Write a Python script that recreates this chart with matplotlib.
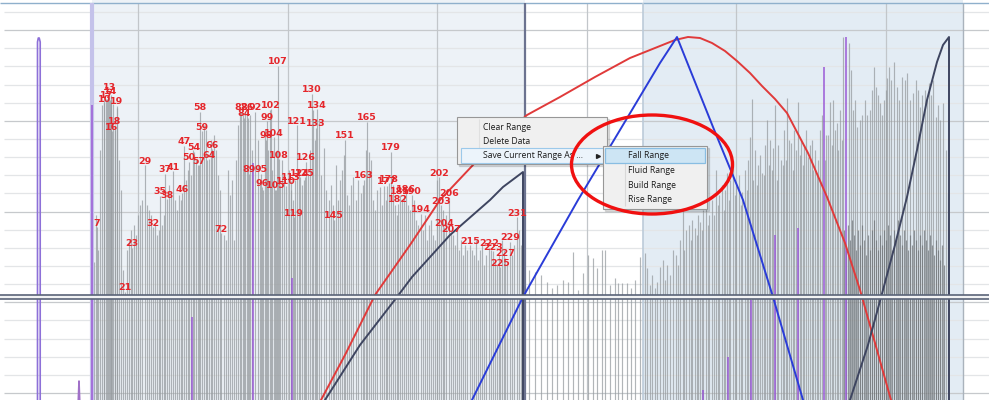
import matplotlib.pyplot as plt
from matplotlib.patches import Ellipse, Rectangle
import numpy as np

# labelled peaks: sample number, time, amplitude
peak_ids = [7, 10, 13, 14, 16, 17, 18, 19, 21, 23, 29, 32, 35, 37, 38, 41, 46, 47,
            50, 54, 57, 58, 59, 64, 66, 72, 82, 84, 86, 89, 92, 95, 96, 98, 99, 102,
            104, 105, 107, 108, 110, 113, 119, 121, 124, 125, 126, 130, 133, 134,
            145, 151, 163, 165, 177, 178, 179, 182, 185, 186, 190, 194, 202, 203,
            204, 206, 207, 215, 222, 223, 225, 227, 229, 231]
peak_t = [97, 104, 109, 111, 112, 107, 115, 117, 125, 132, 145, 153, 160, 165, 167,
          173, 182, 184, 189, 194, 199, 200, 202, 209, 212, 221, 241, 244, 247, 249,
          255, 261, 262, 266, 267, 271, 274, 276, 278, 279, 286, 291, 294, 297, 300,
          305, 306, 312, 316, 317, 334, 345, 364, 367, 387, 389, 391, 398, 400, 406,
          412, 421, 439, 441, 444, 449, 451, 470, 489, 493, 500, 505, 510, 517]
peak_amp = [173, 297, 309, 305, 269, 301, 275, 294, 108, 152, 235, 173, 204, 226, 201,
            229, 207, 254, 238, 248, 235, 288, 269, 241, 251, 167, 288, 282, 288, 226,
            288, 226, 213, 260, 279, 291, 263, 210, 334, 241, 214, 219, 183, 275, 223,
            223, 238, 306, 272, 291, 180, 260, 220, 278, 214, 217, 248, 196, 205, 207,
            205, 186, 223, 195, 173, 202, 167, 155, 152, 149, 133, 142, 158, 183]

# unlabelled samples in the first range
bar_t = [94, 96, 98, 100, 102, 104, 106, 108, 110, 111, 113, 115, 117, 119, 121, 123,
         127, 129, 131, 134, 136, 138, 140, 142, 147, 149, 151, 155, 157, 159, 162,
         164, 169, 171, 175, 177, 179, 181, 186, 188, 191, 193, 196, 198, 204, 206,
         207, 211, 214, 216, 218, 220, 224, 226, 228, 230, 232, 234, 236, 238, 240,
         243, 245, 248, 250, 252, 258, 260, 263, 265, 268, 270, 272, 275, 277, 280,
         282, 284, 289, 291, 293, 295, 299, 302, 304, 308, 310, 313, 315, 319, 321,
         324, 326, 329, 331, 333, 336, 338, 340, 342, 344, 347, 349, 351, 353, 356,
         358, 361, 363, 366, 369, 371, 373, 375, 377, 380, 382, 384, 386, 393, 395,
         397, 402, 404, 408, 410, 414, 416, 418, 423, 425, 427, 429, 431, 433, 435,
         437, 443, 446, 453, 455, 457, 459, 461, 463, 465, 467, 472, 474, 476, 478,
         480, 482, 484, 486, 491, 495, 497, 499, 502, 504, 507, 512, 514, 519, 521]
bar_amp = [138, 185, 150, 250, 295, 300, 301, 303, 300, 302, 296, 270, 292, 240, 210,
           130, 150, 160, 170, 175, 165, 185, 195, 200, 195, 190, 185, 175, 165, 170,
           175, 185, 215, 205, 200, 190, 205, 200, 220, 230, 225, 250, 240, 235, 275,
           270, 240, 260, 265, 250, 225, 210, 165, 160, 230, 205, 220, 160, 240, 275,
           288, 285, 288, 282, 285, 250, 260, 215, 210, 270, 250, 290, 230, 210, 250,
           215, 240, 225, 230, 210, 200, 220, 230, 215, 220, 225, 250, 290, 260, 280,
           225, 252, 210, 200, 215, 195, 235, 200, 220, 230, 245, 205, 195, 215, 223,
           200, 220, 207, 215, 250, 248, 240, 200, 190, 210, 213, 195, 214, 200, 215,
           195, 185, 200, 205, 195, 190, 200, 180, 175, 170, 185, 160, 175, 180, 165,
           160, 220, 190, 185, 165, 155, 170, 150, 160, 145, 155, 150, 150, 145, 160,
           140, 150, 155, 135, 145, 150, 140, 135, 145, 160, 150, 135, 145, 155, 170,
           155]

# samples between the two ranges
gap_t = [529, 535, 541, 547, 552, 557, 563, 568, 573, 578, 583, 588, 593, 597, 602,
         605, 610, 615, 618, 622, 627, 631, 635, 640]
gap_amp = [130, 128, 125, 118, 112, 115, 120, 118, 148, 110, 127, 145, 142, 132, 150,
           150, 115, 122, 117, 117, 117, 112, 120, 143]

# samples in the second range
right_t = [645, 647, 652, 655, 660, 663, 667, 670, 673, 676, 680, 683, 686, 689, 692,
           695, 698, 700, 703, 706, 709, 712, 716, 719, 722, 725, 727, 730, 733, 736,
           739, 742, 745, 748, 750, 752, 755, 758, 760, 762, 765, 767, 770, 773, 775,
           778, 781, 784, 787, 789, 791, 794, 796, 798, 801, 804, 806, 808, 810, 812,
           815, 818, 820, 822, 826, 828, 830, 833, 835, 837, 840, 843, 849, 851, 853,
           855, 857, 860, 862, 865, 867, 870, 872, 874, 876, 878, 880, 882, 884, 886,
           887, 889, 891, 894, 897, 899, 902, 905, 907, 910, 913, 916, 918, 920, 922,
           925, 927, 929, 931, 933, 936, 938, 940, 943, 946, 948]
right_amp = [147, 132, 125, 112, 133, 140, 135, 125, 150, 145, 160, 190, 170, 175, 180,
             172, 185, 178, 190, 195, 185, 200, 230, 205, 215, 210, 227, 220, 240, 215,
             225, 208, 230, 240, 263, 301, 250, 235, 245, 227, 255, 280, 260, 252, 295,
             255, 240, 270, 302, 260, 257, 270, 250, 298, 260, 255, 270, 243, 255, 260,
             250, 240, 270, 285, 265, 265, 298, 300, 270, 277, 290, 363, 357, 330, 290,
             300, 273, 280, 285, 300, 285, 290, 310, 333, 313, 305, 297, 285, 300, 310,
             322, 333, 320, 338, 313, 300, 323, 320, 327, 300, 307, 320, 310, 293, 305,
             310, 300, 317, 305, 320, 283, 295, 280, 297, 250, 207]
# extra samples in the second range (interleaved readings)
right2_t = [650, 657, 665, 678, 684, 691, 697, 702, 708, 714, 718, 724, 729, 735, 741,
            747, 753, 757, 764, 769, 772, 777, 783, 786, 793, 800, 803, 813, 817, 825,
            832, 838, 842]
right2_amp = [115, 118, 120, 135, 150, 160, 165, 170, 175, 185, 195, 190, 200, 205,
              195, 210, 220, 215, 225, 235, 230, 220, 235, 240, 230, 245, 235, 230,
              225, 240, 255, 250, 260]
# dense late samples
late_t = [844, 846, 848, 850, 852, 854, 856, 858, 860, 862, 864, 866, 868, 870, 872,
          874, 876, 878, 880, 882, 884, 886, 888, 890, 892, 894, 896, 898, 900, 902,
          904, 906, 908, 910, 912, 914, 916, 918, 920, 922, 924, 926, 928, 930, 932,
          934, 936, 938, 940, 942, 944]
late_amp = [170, 150, 175, 160, 180, 165, 150, 170, 155, 175, 160, 145, 165, 150, 170,
            180, 160, 150, 165, 155, 170, 160, 175, 165, 150, 170, 160, 180, 165, 155,
            170, 160, 150, 165, 155, 170, 160, 150, 165, 155, 170, 160, 150, 165, 155,
            145, 160, 150, 140, 155, 135]

# event markers (purple)
marker_t = [92, 192, 253, 292, 703, 728, 751, 775, 798, 824, 846]
marker_amp = [295, 83, 237, 122, 10, 43, 100, 165, 172, 333, 363]

# curves
red_t = [321, 345, 375, 410, 440, 473, 500, 527, 560, 595, 630, 660, 675, 688, 700,
         712, 725, 737, 750, 762, 775, 787, 808, 827, 845, 860, 875, 891]
red_amp = [0, 45, 105, 155, 200, 235, 261, 285, 303, 323, 342, 354, 360, 363, 362,
           357, 349, 339, 327, 314, 301, 287, 247, 203, 157, 110, 57, 0]
blue_t = [472, 523, 578, 620, 660, 677, 695, 713, 743, 773, 803]
blue_amp = [0, 103, 200, 270, 337, 363, 318, 273, 200, 103, 0]
navy1_t = [325, 360, 397, 412, 450, 490, 500, 503, 523, 523]
navy1_amp = [0, 55, 103, 123, 165, 200, 210, 213, 228, 0]
navy2_t = [850, 868, 883, 895, 907, 917, 927, 937, 943, 949, 949]
navy2_amp = [0, 55, 110, 155, 203, 250, 300, 338, 355, 363, 0]

spike_t = [37.5, 37.5, 38.3, 39.2, 40.2, 40.2]
spike_amp = [0, 358, 362, 362, 358, 0]

menu_items = ["Clear Range", "Delete Data", "Save Current Range As ..."]
sub_items = ["Fall Range", "Fluid Range", "Build Range", "Rise Range"]

fig = plt.figure(figsize=(9.89, 4.0), dpi=100)
ax = fig.add_axes([0, 0, 1, 1])
ax.set_xlim(0, 989)
ax.set_ylim(0, 400)
ax.axis("off")

# ranges
ax.axvspan(92, 525, color="#edf2f7", zorder=0, lw=0)
ax.axvspan(643, 963, color="#e3ecf4", zorder=0, lw=0)

# grid
grid_y = 388 - 18.14 * np.arange(22)
for k, gy in enumerate(grid_y):
    c = "#c6c9cc" if k % 5 == 1 else "#e3e5e7"
    ax.hlines(gy, 4, 989, colors=c, lw=0.9, zorder=1)
for gx in 138 + 149.6 * np.arange(6):
    ax.vlines(gx, 0, 397, colors="#c2c6ca", lw=0.9, zorder=1)
ax.hlines(397, 0, 989, colors="#8fb0cc", lw=1.0, zorder=1)

# samples
bar_style = dict(colors="#979ca0", lw=0.85, alpha=0.75, zorder=2)
ax.vlines(bar_t, 0, bar_amp, **bar_style)
ax.vlines(peak_t, 0, peak_amp, **bar_style)
ax.vlines(gap_t, 0, gap_amp, **bar_style)
ax.vlines(right_t, 0, right_amp, **bar_style)
ax.vlines(right2_t, 0, right2_amp, **bar_style)
ax.vlines(late_t, 0, late_amp, colors="#6a6f73", lw=0.85, alpha=0.7, zorder=2)

# range borders
ax.vlines(92, 0, 397, colors="#c4c2ea", lw=3, zorder=2)
ax.vlines(525, 0, 397, colors="#6c7390", lw=1.6, zorder=3)
ax.vlines(643, 0, 397, colors="#bccbd9", lw=1.2, zorder=1)
ax.vlines(963, 0, 397, colors="#aab3bc", lw=1.0, zorder=1)

# event markers
ax.vlines(marker_t, 0, marker_amp, colors="#9a5ad6", lw=1.1, zorder=3)
ax.plot(spike_t, spike_amp, color="#8d70d8", lw=1.2, zorder=3)
ax.plot([78.3, 79, 79.7], [0, 19, 0], color="#a070c8", lw=1.2, zorder=3)

# curves
ax.plot(red_t, red_amp, color="#e03a3a", lw=1.4, zorder=4)
ax.plot(blue_t, blue_amp, color="#2a3cd8", lw=1.4, zorder=4)
ax.plot(navy1_t, navy1_amp, color="#3e4560", lw=1.4, zorder=4)
ax.plot(navy2_t, navy2_amp, color="#3e4560", lw=1.4, zorder=4)

# panel divider
ax.axhspan(101.5, 105.5, color="#f2f3f4", zorder=5, lw=0)
ax.hlines([101.5, 105.5], 0, 989, colors="#5a6478", lw=1.2, zorder=5)

# peak labels
for pid, t, a in zip(peak_ids, peak_t, peak_amp):
    ax.text(t, a + 1.5, str(pid), color="#e5262b", fontsize=6.8,
            fontweight="bold", ha="center", va="baseline", zorder=6)

# context menu
ax.add_patch(Rectangle((459, 234), 150, 47, color="#000000", alpha=0.12, zorder=7))
ax.add_patch(Rectangle((457, 236), 150, 47, facecolor="#f0f0f0",
                       edgecolor="#979797", lw=0.8, zorder=8))
ax.vlines(479, 238, 281, colors="#e0e0e0", lw=0.8, zorder=8)
ax.add_patch(Rectangle((461, 237.5), 143, 14.5, facecolor="#ecf4fb",
                       edgecolor="#9cc9ea", lw=0.8, zorder=8))
for k, item in enumerate(menu_items):
    ax.text(483, 273 - 14.5 * k, item, fontsize=6.2, family="Open Sans",
            color="#1a1a1a", ha="left", va="center", zorder=9)
ax.plot(598, 244.5, marker=">", markersize=2.8, color="#222222", zorder=9)

ax.add_patch(Rectangle((605, 189), 104, 63, color="#000000", alpha=0.12, zorder=7))
ax.add_patch(Rectangle((603, 191), 104, 63, facecolor="#f0f0f0",
                       edgecolor="#979797", lw=0.8, zorder=8))
ax.vlines(625, 194, 252, colors="#d8d8d8", lw=0.8, zorder=8)
ax.add_patch(Rectangle((605, 237.5), 100, 14.5, facecolor="#cde5f4",
                       edgecolor="#88bde2", lw=0.9, zorder=8))
for k, item in enumerate(sub_items):
    ax.text(628, 244.5 - 14.8 * k, item, fontsize=6.2, family="Open Sans",
            color="#1a1a1a", ha="left", va="center", zorder=9)

ax.add_patch(Ellipse((652, 235.5), 161, 99, fill=False, edgecolor="#f01010",
                     lw=2.4, zorder=10))

fig.savefig("out.png", dpi=100)
